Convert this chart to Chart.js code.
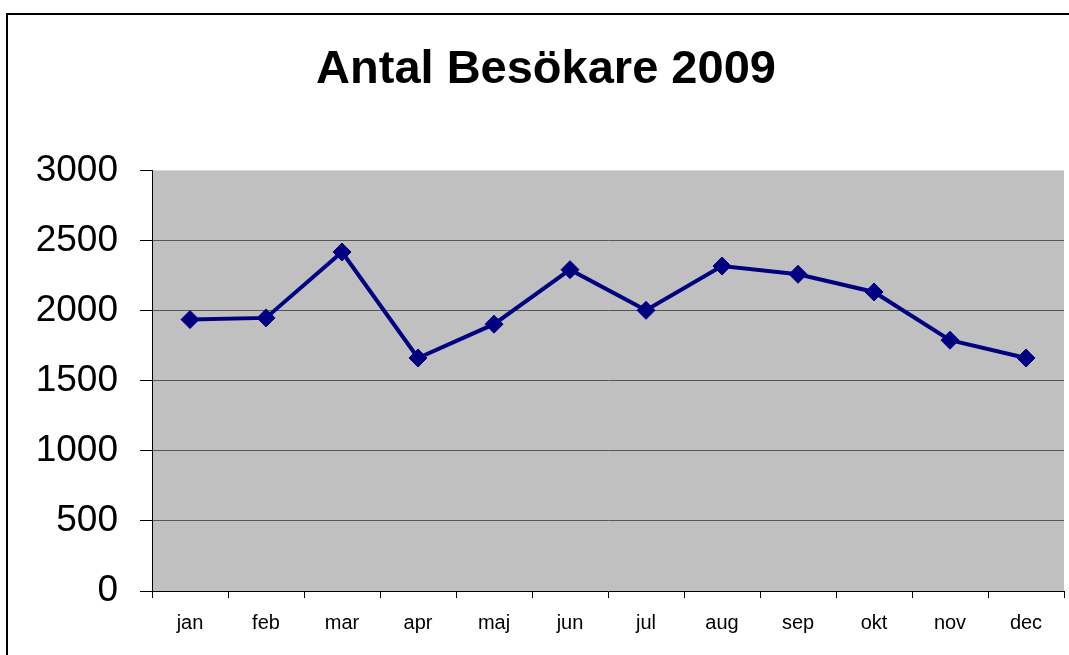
<!DOCTYPE html>
<html>
<head>
<meta charset="utf-8">
<script src="https://cdn.jsdelivr.net/npm/chart.js@4/dist/chart.umd.min.js"></script>
<style>
  html, body { margin: 0; padding: 0; background: #fff; }
  #wrap { width: 1069px; height: 655px; }
</style>
</head>
<body>
<div id="wrap"><canvas id="chart" width="1069" height="655"></canvas></div>
<script>
// --- Data ---
const months = ['jan', 'feb', 'mar', 'apr', 'maj', 'jun', 'jul', 'aug', 'sep', 'okt', 'nov', 'dec'];
const visitors = [1936, 1948, 2418, 1662, 1903, 2292, 2002, 2318, 2259, 2133, 1789, 1662];
const yTicks = [0, 500, 1000, 1500, 2000, 2500, 3000];

// plot background + outer frame; title nudged right like the original
const frame = {
    id: 'frame',
    afterLayout(chart) {
        if (chart.titleBlock) {
            chart.titleBlock.left += 14;
            chart.titleBlock.right += 14;
        }
    },
    beforeDraw(chart) {
        const c = chart.ctx;
        const a = chart.chartArea;
        c.save();
        c.fillStyle = '#fff';
        c.fillRect(0, 0, chart.width, chart.height);
        c.fillStyle = '#c0c0c0';
        c.fillRect(a.left, a.top, a.right - a.left, a.bottom - a.top);
        c.strokeStyle = '#000';
        c.lineWidth = 2;
        c.beginPath();
        c.moveTo(7, chart.height);
        c.lineTo(7, 14);
        c.lineTo(chart.width, 14);
        c.stroke();
        c.restore();
    }
};

const ctx = document.getElementById('chart').getContext('2d');
new Chart(ctx, {
    type: 'line',
    data: {
        labels: months,
        datasets: [{
            label: 'Antal Besökare',
            data: visitors,
            borderColor: '#000080',
            backgroundColor: '#000080',
            borderWidth: 4,
            tension: 0,
            pointStyle: 'rectRot',
            pointRadius: 9,
            pointBorderWidth: 1,
            pointBackgroundColor: '#000080',
            pointBorderColor: '#000080'
        }]
    },
    options: {
        responsive: false,
        animation: false,
        layout: { autoPadding: false, padding: { top: 14, right: 5, bottom: 0, left: 0 } },
        plugins: {
            legend: { display: false },
            tooltip: { enabled: false },
            title: {
                display: true,
                text: 'Antal Besökare 2009',
                color: '#000',
                font: { family: 'Liberation Sans, Arial, sans-serif', size: 47, weight: 'bold' },
                padding: { top: 28, bottom: 72 }
            }
        },
        scales: {
            x: {
                offset: true,
                afterFit: s => { s.height = 64; },
                grid: { display: true, drawOnChartArea: false, offset: true, tickLength: 7, color: '#000' },
                border: { display: true, color: '#000', width: 1 },
                ticks: {
                    color: '#000',
                    padding: 13,
                    maxRotation: 0,
                    font: { family: 'Liberation Sans, Arial, sans-serif', size: 20 }
                }
            },
            y: {
                min: 0,
                max: 3000,
                afterFit: s => { s.width = 152; },
                afterBuildTicks: s => { s.ticks = yTicks.map(v => ({ value: v })); },
                grid: {
                    tickLength: 12,
                    color: c => (c.tick && (c.tick.value === 3000 || c.tick.value === 0)) ? 'rgba(0,0,0,0)' : '#555',
                    tickColor: '#000'
                },
                border: { display: true, color: '#000', width: 1 },
                ticks: {
                    color: '#000',
                    padding: 22,
                    callback: v => String(v),
                    font: { family: 'Liberation Sans, Arial, sans-serif', size: 37 }
                }
            }
        }
    },
    plugins: [frame]
});
</script>
</body>
</html>
